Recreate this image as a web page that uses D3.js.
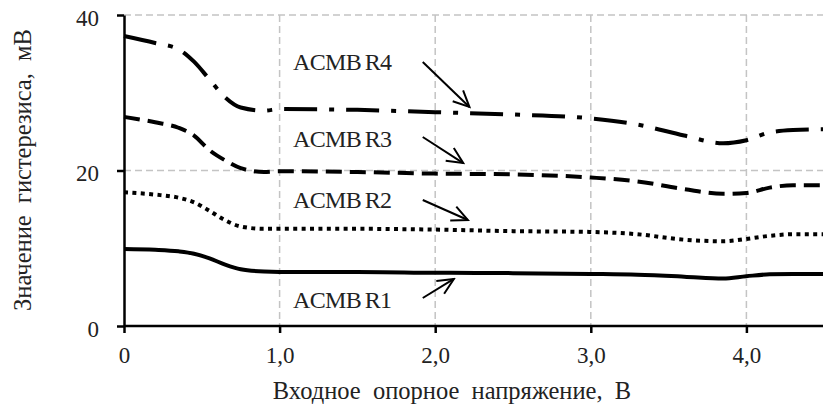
<!DOCTYPE html>
<html>
<head>
<meta charset="utf-8">
<script src="https://cdn.jsdelivr.net/npm/d3@7/dist/d3.min.js"></script>
</head>
<body style="margin:0">
<svg id="chart" width="823" height="420" font-family="Liberation Serif, Tinos, Times New Roman, FreeSerif"></svg>
<script>
// Reference voltage, V
const voltage = [0, 0.2, 0.35, 0.45, 0.55, 0.65, 0.75, 0.9, 1.0, 1.5, 2.0, 2.5, 3.0, 3.3, 3.6, 3.85, 4.0, 4.15, 4.3, 4.5];

// Hysteresis, mV, for each comparator setting
const seriesR1 = [9.9, 9.8, 9.6, 9.3, 8.7, 7.9, 7.3, 7.0, 6.95, 6.95, 6.85, 6.8, 6.7, 6.6, 6.35, 6.1, 6.4, 6.65, 6.7, 6.7];
const seriesR2 = [17.2, 16.9, 16.5, 15.9, 14.8, 13.6, 12.8, 12.5, 12.5, 12.5, 12.4, 12.2, 12.1, 11.8, 11.1, 10.9, 11.2, 11.6, 11.8, 11.8];
const seriesR3 = [26.9, 26.2, 25.5, 24.5, 22.6, 21.3, 20.3, 19.8, 19.9, 19.8, 19.6, 19.5, 19.1, 18.6, 17.6, 17.0, 17.1, 17.8, 18.1, 18.1];
const seriesR4 = [37.3, 36.4, 35.6, 34.0, 31.7, 29.4, 28.1, 27.7, 27.9, 27.8, 27.5, 27.2, 26.7, 25.9, 24.5, 23.5, 23.9, 24.9, 25.2, 25.3];

const seriesNames = ["ACMB R1", "ACMB R2", "ACMB R3", "ACMB R4"];

// Axis ticks
const xTicks = [0, 1, 2, 3, 4];
const xTickLabels = ["0", "1,0", "2,0", "3,0", "4,0"];
const yTicks = [0, 20, 40];
const yTickLabels = ["0", "20", "40"];

// Callout placement, in data units: label anchor, arrow start, arrow end
const labelX = [1.086, 1.086, 1.086, 1.086];
const labelY = [2.32, 15.18, 23.02, 32.93];
const arrowFromX = [1.92, 1.92, 1.92, 1.92];
const arrowFromY = [3.60, 16.21, 24.31, 33.95];
const arrowToX = [2.12, 2.21, 2.18, 2.22];
const arrowToY = [6.05, 13.63, 20.96, 28.17];

const xTitle = "Входное  опорное  напряжение,  В";
const yTitle = "Значение  гистерезиса,  мВ";

const INK = "#222";
// serif face applied to every piece of text
function serif(sel, size) {
  return sel.attr("font-family", "Liberation Serif")
    .style("font-family", "\"Liberation Serif\", Tinos, \"Times New Roman\", FreeSerif")
    .style("font-size", size + "px")
    .attr("fill", INK);
}

const svg = d3.select("#chart");
const x = d3.scaleLinear().domain([0, 4.5]).range([124, 824.2]);
const y = d3.scaleLinear().domain([0, 40]).range([326, 15]);

// Grid
const grid = svg.append("g").attr("stroke", "#c4c4c4").attr("stroke-width", 1.5)
  .attr("stroke-dasharray", "7,4").attr("fill", "none");
grid.selectAll("line.v").data(xTicks.filter(d => d > 0)).join("line")
  .attr("x1", d => x(d)).attr("x2", d => x(d)).attr("y1", y(40)).attr("y2", y(0));
grid.selectAll("line.h").data(yTicks.filter(d => d > 0)).join("line")
  .attr("x1", x(0)).attr("x2", 823).attr("y1", d => y(d)).attr("y2", d => y(d));

// Series
const dashes = [null, "4,4.4", "16,8", "33,12,5,12"];
const allSeries = [seriesR1, seriesR2, seriesR3, seriesR4];
const line = d3.line()
  .x((d, i) => x(voltage[i]))
  .y(d => y(d))
  .curve(d3.curveMonotoneX);

svg.append("g").selectAll("path").data(allSeries).join("path")
  .attr("d", d => line(d))
  .attr("fill", "none")
  .attr("stroke", "#000")
  .attr("stroke-width", 4)
  .attr("stroke-dasharray", (d, i) => dashes[i]);

// Axes
const xAxis = d3.axisBottom(x).tickValues(xTicks).tickFormat((d, i) => xTickLabels[i])
  .tickSizeInner(7).tickSizeOuter(0).tickPadding(14);
const yAxis = d3.axisLeft(y).tickValues(yTicks).tickFormat((d, i) => yTickLabels[i])
  .tickSizeInner(7).tickSizeOuter(0).tickPadding(18);

const gx = svg.append("g").attr("transform", `translate(0,${y(0)})`).call(xAxis);
const gy = svg.append("g").attr("transform", `translate(${x(0)},0)`).call(yAxis);
[gx, gy].forEach(g => {
  g.attr("font-family", "Liberation Serif").attr("font-size", 23);
  g.select(".domain").attr("stroke", "#000").attr("stroke-width", 2.5);
  g.selectAll(".tick line").attr("stroke", "#000").attr("stroke-width", 2.5);
  serif(g.selectAll(".tick text"), 23);
});
gx.select(".domain").attr("d", `M${x(0)},0H823`);
gy.selectAll(".tick text").attr("dy", "0.45em");

// Callouts
const defs = svg.append("defs");
defs.append("marker").attr("id", "vhead")
  .attr("viewBox", "-18 -9 20 18").attr("refX", 0).attr("refY", 0)
  .attr("markerWidth", 20).attr("markerHeight", 18)
  .attr("markerUnits", "userSpaceOnUse").attr("orient", "auto")
  .append("path").attr("d", "M-16,-7.5L0,0L-16,7.5")
  .attr("fill", "none").attr("stroke", "#000").attr("stroke-width", 2);

const notes = svg.append("g");
serif(notes.selectAll("text").data(seriesNames).join("text"), 24)
  .attr("x", (d, i) => x(labelX[i])).attr("y", (d, i) => y(labelY[i]))
  .style("letter-spacing", "-0.6px").style("word-spacing", "-2px")
  .text(d => d);
notes.selectAll("line").data(seriesNames).join("line")
  .attr("x1", (d, i) => x(arrowFromX[i])).attr("y1", (d, i) => y(arrowFromY[i]))
  .attr("x2", (d, i) => x(arrowToX[i])).attr("y2", (d, i) => y(arrowToY[i]))
  .attr("stroke", "#000").attr("stroke-width", 2)
  .attr("marker-end", "url(#vhead)");

// Axis titles
serif(svg.append("text"), 24.5).attr("x", 452).attr("y", 399).attr("text-anchor", "middle")
  .style("white-space", "pre").text(xTitle);
serif(svg.append("text"), 24.5).attr("transform", "translate(31,170) rotate(-90)")
  .attr("text-anchor", "middle")
  .style("white-space", "pre").text(yTitle);
</script>
</body>
</html>
